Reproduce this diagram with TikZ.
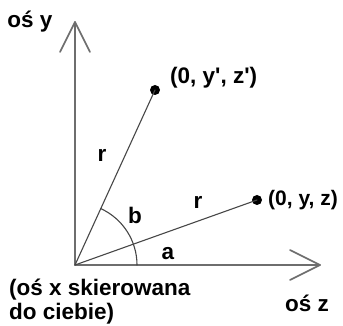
\documentclass[tikz,border=0pt]{standalone}
\usepackage{fontspec}
\setmainfont{Liberation Sans}
\usetikzlibrary{calc}
\definecolor{axisgray}{RGB}{110,110,110}
\definecolor{linegray}{RGB}{70,70,70}
\tikzset{
    lab/.style={
        font=\fontsize{22.5}{24}\selectfont\bfseries, inner sep=0pt
    }
}

\begin{document}
\begin{tikzpicture}[x=1pt,y=1pt, line cap=round, line join=round]

\tikzset{
  axis/.style={draw=axisgray, line width=1.6pt},
  ray/.style={draw=linegray, line width=1.1pt},
  dot/.style={circle, fill=black, minimum size=10pt, inner sep=0pt},
}

\useasboundingbox (-75,-61) rectangle (268,265);

% points
\coordinate (O) at (0,0);
\coordinate (Ytop) at (0,243);
\coordinate (Yl) at (-15,213);
\coordinate (Yr) at (15,213);
\coordinate (Ztip) at (245,0);
\coordinate (Zu) at (215,15);
\coordinate (Zd) at (215,-15);
\node[dot] (P1) at (80,175) {};
\node[dot] (P2) at (182,65) {};

% axes
\draw[axis] (O) -- (Ytop);
\draw[axis] (Yl) -- (Ytop) -- (Yr);
\draw[axis] (O) -- (Ztip);
\draw[axis] (Zu) -- (Ztip) -- (Zd);

% rays
\draw[ray] (O) -- (P1.center);
\draw[ray] (O) -- (P2.center);

% angle arc
\draw[ray] ($(O)+(62,0)$) arc[start angle=0, end angle=65.4, radius=62];

% labels
\node[lab] (ly) at (-45,243) {oś y};
\node[lab, anchor=west] (lp1) at (95,187) {(0, y\textquotesingle, z\textquotesingle)};
\node[lab, anchor=west, font=\fontsize{21}{24}\selectfont\bfseries] (lp2) at (193,65) {(0, y, z)};
\node[lab] (r1) at (27,110) {r};
\node[lab] (r2) at (123,63) {r};
\node[lab] (lb) at (60,50) {b};
\node[lab] (la) at (93,11) {a};
\node[lab, anchor=north west, align=left] (lx) at (-66,-14) {(oś x skierowana\\do ciebie)};
\node[lab] (lz) at (232,-38) {oś z};

\end{tikzpicture}
\end{document}
